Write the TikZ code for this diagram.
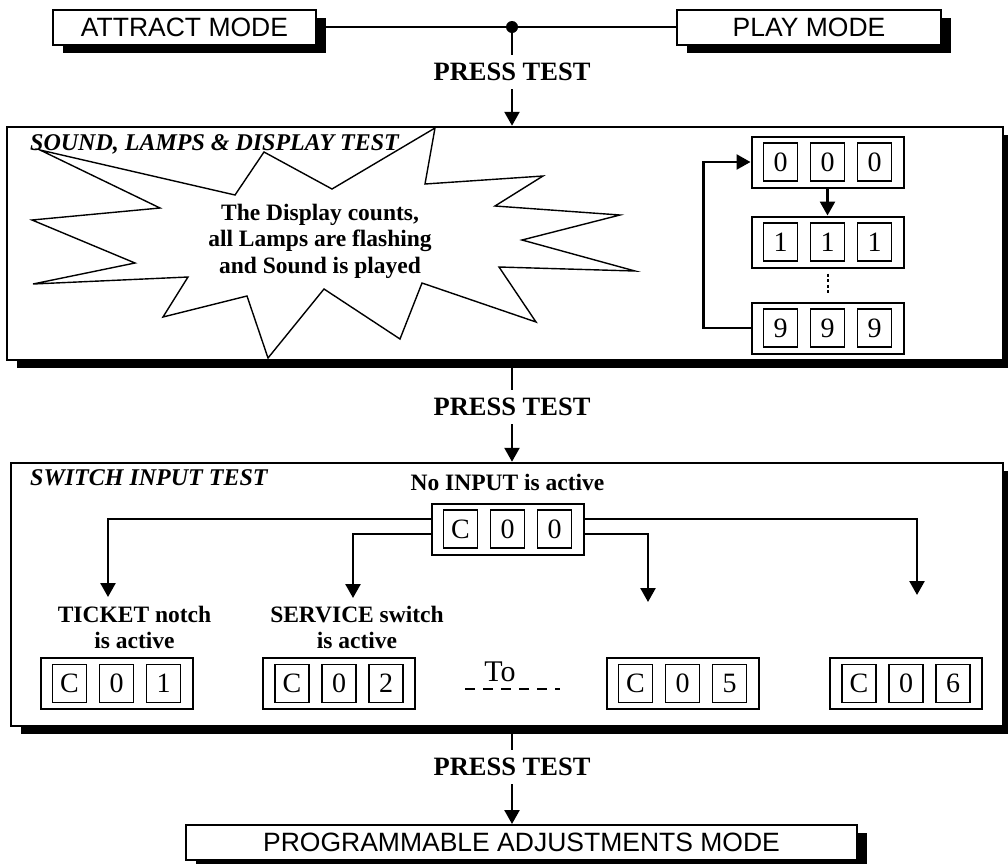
\documentclass[tikz,border=0pt]{standalone}
\usepackage{fontspec}
\setmainfont{Liberation Serif}
\setsansfont{Liberation Sans}
\usepackage{tikz}
\usetikzlibrary{arrows.meta, positioning, calc, shadows}

\begin{document}
\begin{tikzpicture}[
      x=1pt, y=-1pt,
      boxshadow/.style={drop shadow={shadow xshift=10pt, shadow yshift=-8pt, fill=black, opacity=1}},
      modebox/.style={rectangle, draw, line width=2pt, fill=white, boxshadow, minimum height=35pt, inner sep=0pt, font=\sffamily\fontsize{26.5}{30}\selectfont},
      testbox/.style={rectangle, draw, line width=2.5pt, fill=white, boxshadow, inner sep=0pt},
      press/.style={font=\bfseries\fontsize{26.5}{30}\selectfont, inner sep=8pt},
      ttl/.style={font=\bfseries\itshape\fontsize{24}{28}\selectfont, inner sep=0pt, anchor=base west},
      lbl/.style={font=\bfseries\fontsize{23.5}{26.5}\selectfont, align=center, inner sep=0pt},
      digrow/.style={rectangle, draw, line width=2pt, fill=white, minimum width=152pt, minimum height=51pt, inner sep=0pt},
      digit/.style={rectangle, draw, line width=1.1pt, minimum width=34pt, minimum height=38pt, inner sep=0pt, font=\fontsize{28}{30}\selectfont},
      dot/.style={circle, fill, inner sep=0pt, minimum size=12pt},
      link/.style={line width=2.5pt},
      >={Triangle[length=14pt, width=15pt]}
    ]

    \useasboundingbox (0,0) rectangle (1008,863);

    % Modes on top
    \node[modebox, minimum width=263pt] (attract) at (184.5,27) {ATTRACT MODE};
    \node[modebox, minimum width=264pt] (play)    at (809,27)   {PLAY MODE};
    \node[dot] (jn) at (512,27) {};
    \draw[link] (attract) -- (jn) -- (play);

    \node[press] (pt1) at (512,72) {PRESS TEST};
    \draw[link] (jn) -- (pt1);

    % Sound, lamps and display test
    \node[testbox, minimum width=996pt, minimum height=233pt] (box1) at (505,243.5) {};
    \draw[link, ->] (pt1) -- (pt1 |- box1.north);

    \draw[line width=1.4pt, fill=white, line join=miter]
      (40,150) -- (235,195) -- (264,152) -- (332,189) -- (435,128) -- (425,184)
      -- (543,176) -- (495,206) -- (620,215) -- (522,240) -- (635,271) -- (499,267)
      -- (536,322) -- (422,283) -- (400,339) -- (324,289) -- (268,358) -- (247,296)
      -- (163,317) -- (188,277) -- (33,284) -- (135,263) -- (32,220) -- (160,208) -- cycle;
    \node[ttl] (ttl1) at (30,150) {SOUND, LAMPS \& DISPLAY TEST};
    \node[lbl] (bursttext) at (320,241) {The Display counts,\\all Lamps are flashing\\and Sound is played};

    % Counting display
    \foreach \nm/\y/\d in {r0/162/0, r1/242/1, r9/328/9} {
      \node[digrow] (\nm) at (827.5,\y) {};
      \node[digit] (\nm-1) at ([xshift=-47pt]\nm.center) {\d};
      \node[digit] (\nm-2) at (\nm.center) {\d};
      \node[digit] (\nm-3) at ([xshift=47pt]\nm.center) {\d};
    }

    \draw[link, ->] (r0) -- (r1);
    \draw[line width=2pt, dash pattern=on 3pt off 2.5pt, shorten <=5pt, shorten >=8pt] (r1) -- (r9);
    \draw[link, ->] (r9.west) -- ++(-47,0) |- (r0.west);

    \node[press] (pt2) at (512,407) {PRESS TEST};
    \draw[link] (pt2 |- box1.south) -- (pt2);

    % Switch input test
    \node[testbox, minimum width=992pt, minimum height=263pt] (box2) at (507,594.5) {};
    \draw[link, ->] (pt2) -- (pt2 |- box2.north);
    \node[ttl] (ttl2) at (30,485) {SWITCH INPUT TEST};

    \foreach \nm/\x/\y/\a/\b/\c in {c00/507.5/529/C/0/0, c01/116.5/683.5/C/0/1, c02/339/683.5/C/0/2,
        c05/682.5/683.5/C/0/5, c06/906/683.5/C/0/6} {
      \node[digrow] (\nm) at (\x,\y) {};
      \node[digit] (\nm-1) at ([xshift=-47pt]\nm.center) {\a};
      \node[digit] (\nm-2) at (\nm.center) {\b};
      \node[digit] (\nm-3) at ([xshift=47pt]\nm.center) {\c};
    }

    \node[lbl, above=12pt of c00] (noin) {No INPUT is active};
    \node[lbl, above=8pt of c01, xshift=18pt] (tick) {TICKET notch\\is active};
    \node[lbl, above=8pt of c02, xshift=18pt] (serv) {SERVICE switch\\is active};

    \coordinate (t1) at (108,597);
    \coordinate (t2) at (353,598);
    \coordinate (t3) at (648,602);
    \coordinate (t4) at (917,595);
    \draw[link, ->] ([yshift=10pt]c00.west) -| (t1);
    \draw[link, ->] ([yshift=-5pt]c00.west) -| (t2);
    \draw[link, ->] ([yshift=-5pt]c00.east) -| (t3);
    \draw[link, ->] ([yshift=10pt]c00.east) -| (t4);

    \node[font=\fontsize{30}{32}\selectfont, inner sep=0pt, anchor=base] (to) at (500,681) {To};
    \coordinate (dl) at (465,689);
    \coordinate (dr) at (560,689);
    \draw[line width=2pt, dash pattern=on 10pt off 8pt] (dl) -- (dr);

    % Programmable adjustments
    \node[press] (pt3) at (512,767) {PRESS TEST};
    \draw[link] (pt3 |- box2.south) -- (pt3);
    \node[modebox, minimum width=671pt] (prog) at (521.5,842.5) {PROGRAMMABLE ADJUSTMENTS MODE};
    \draw[link, ->] (pt3) -- (pt3 |- prog.north);

  \end{tikzpicture}
\end{document}
